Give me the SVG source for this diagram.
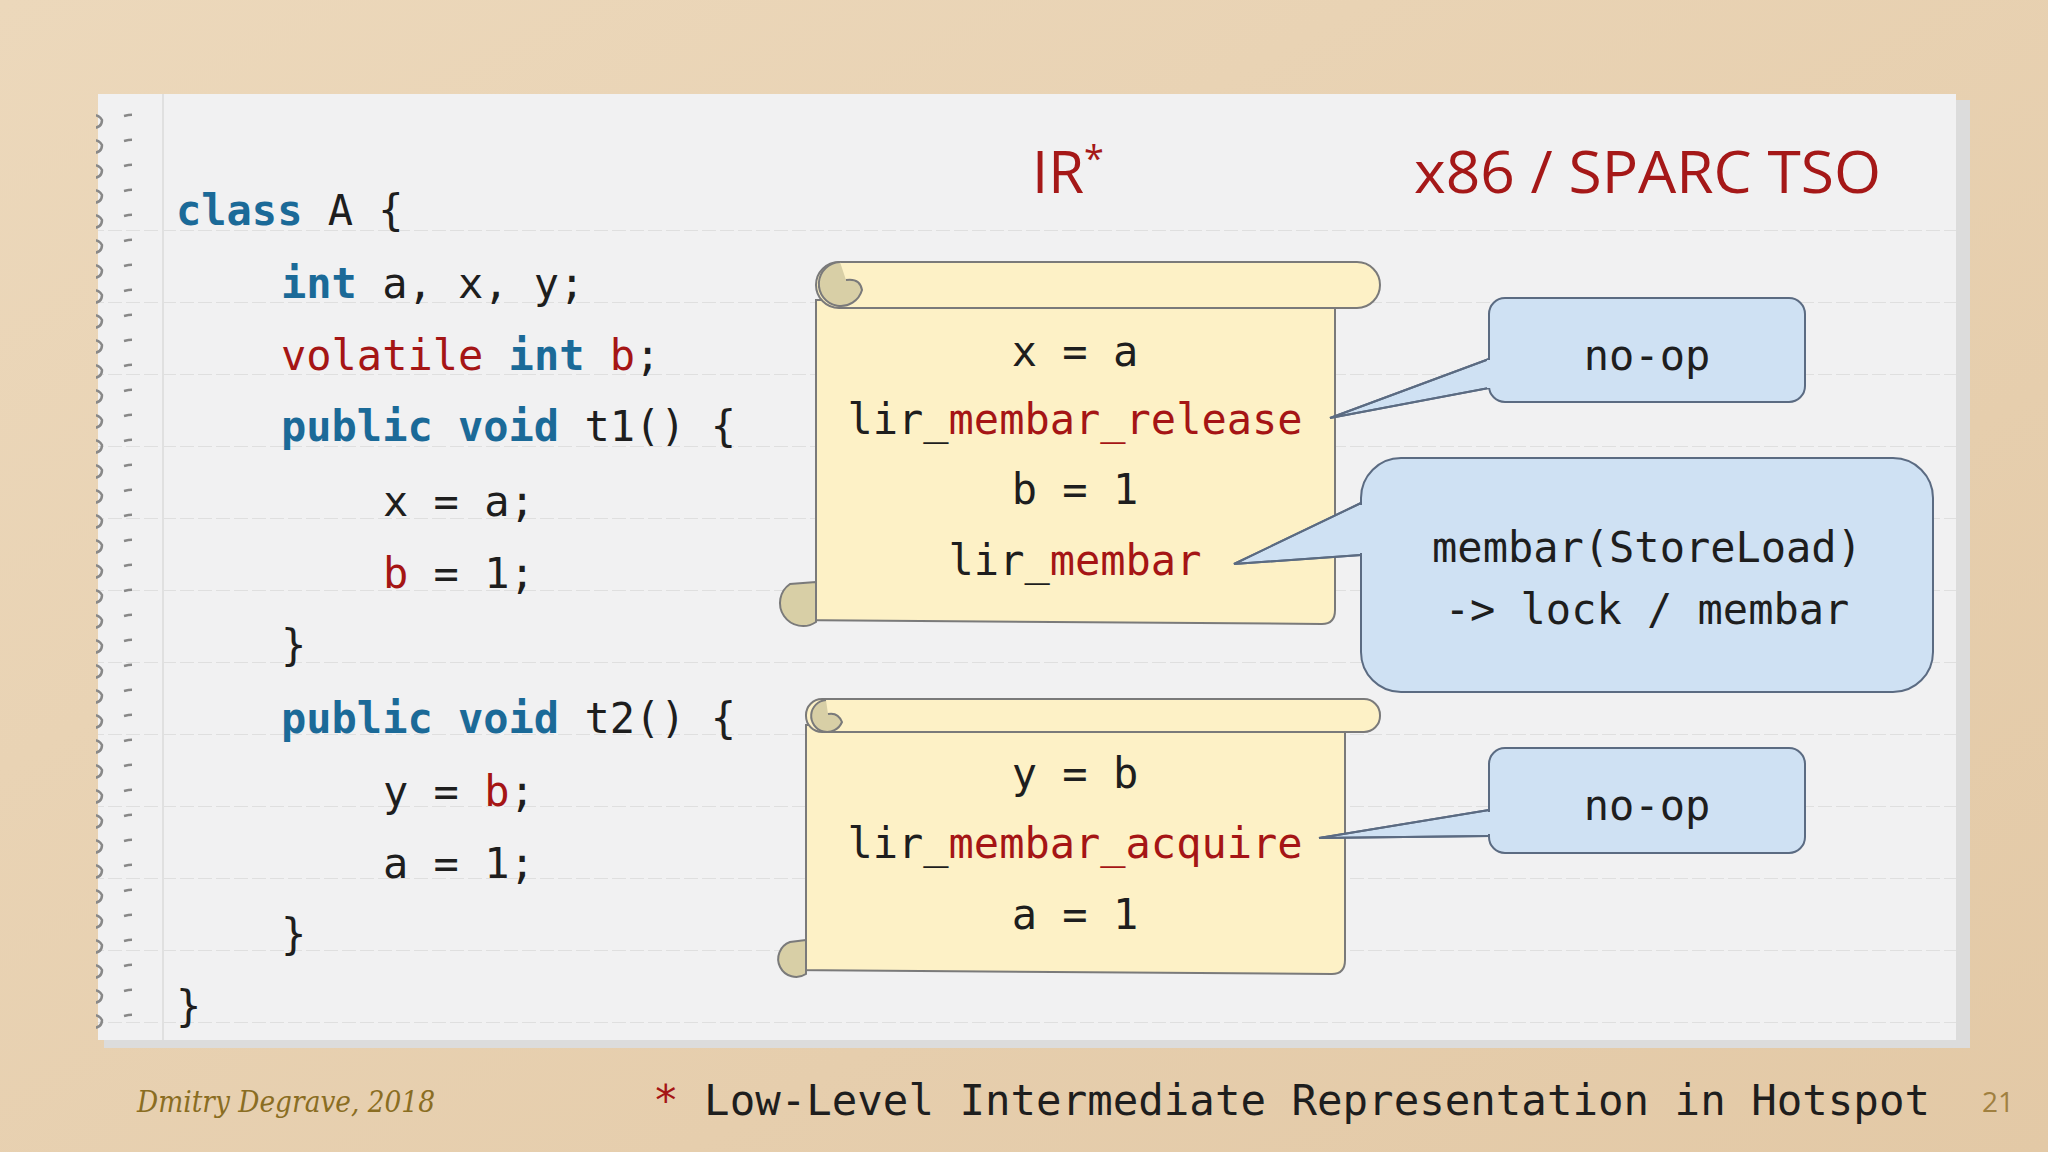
<svg xmlns="http://www.w3.org/2000/svg" width="2048" height="1152" viewBox="0 0 2048 1152">
<style>
.code{font-family:"DejaVu Sans Mono","Liberation Mono",monospace;font-size:42px;fill:#1e1e1e}
.kw{fill:#1b6a98;font-weight:bold}
.rd{fill:#a51515}
.head{font-family:"Open Sans","DejaVu Sans",sans-serif;font-size:58px;fill:#a51818}
.scroll{fill:#fdf1c6;stroke:#7a7a7a;stroke-width:2}
.curl{fill:#d8cfa6;stroke:#7a7a7a;stroke-width:2}
.call{fill:#cfe1f3;stroke:#5b6b82;stroke-width:2}
.mid{text-anchor:middle}
</style>
<defs>
<linearGradient id="bg" x1="0" y1="0" x2="1" y2="1"><stop offset="0" stop-color="#ecd8bb"/><stop offset="1" stop-color="#e3c9a6"/></linearGradient>
<pattern id="lines" x="0" y="14" width="2048" height="72" patternUnits="userSpaceOnUse"><line x1="0" y1="0" x2="2048" y2="0" stroke="#d9d9d9" stroke-width="1.5" stroke-dasharray="14 4"/></pattern>
<pattern id="holes" x="0" y="110" width="40" height="25" patternUnits="userSpaceOnUse"><path d="M4 6 Q18 2 22 10 Q22 18 12 18" fill="none" stroke="#888" stroke-width="2.5"/></pattern>
</defs>
<rect width="2048" height="1152" fill="url(#bg)"/>
<g id="paper">
<rect x="104" y="100" width="1866" height="948" fill="#dcdcdc"/>
<rect x="98" y="94" width="1858" height="946" fill="#f1f1f2"/>
<rect x="98" y="160" width="1858" height="880" fill="url(#lines)"/>
<line x1="163" y1="94" x2="163" y2="1040" stroke="#e0e0e0" stroke-width="2"/>
<rect x="96" y="110" width="36" height="920" fill="url(#holes)"/>
</g>
<g id="code" class="code">
<text x="176" y="225"><tspan class="kw">class</tspan> A {</text>
<text x="281" y="298"><tspan class="kw">int</tspan> a, x, y;</text>
<text x="281" y="370"><tspan class="rd">volatile</tspan> <tspan class="kw">int</tspan> <tspan class="rd">b</tspan>;</text>
<text x="281" y="441"><tspan class="kw">public void</tspan> t1() {</text>
<text x="383" y="516">x = a;</text>
<text x="383" y="588"><tspan class="rd">b</tspan> = 1;</text>
<text x="281" y="660">}</text>
<text x="281" y="733"><tspan class="kw">public void</tspan> t2() {</text>
<text x="383" y="806">y = <tspan class="rd">b</tspan>;</text>
<text x="383" y="878">a = 1;</text>
<text x="281" y="949">}</text>
<text x="176" y="1021">}</text>
</g>
<g id="headings">
<text class="head" x="1032" y="193">IR<tspan font-size="36" dy="-22">*</tspan></text>
<text class="head" x="1414" y="193" textLength="467" lengthAdjust="spacingAndGlyphs">x86 / SPARC TSO</text>
</g>
<g id="scroll1">
<path class="scroll" d="M816 300 L816 600 L790 620 L1322 624 Q1335 624 1335 610 L1335 300 Z"/>
<rect class="scroll" x="816" y="262" width="564" height="46" rx="23"/>
<path class="curl" d="M840 262 A22 22 0 1 0 862 290 Q860 278 846 280"/>
<path class="curl" d="M816 582 L790 584 A22 22 0 1 0 816 622 Z"/>
<g class="code mid"><text x="1075" y="366">x = a</text>
<text x="1075" y="434">lir_<tspan class="rd">membar_release</tspan></text>
<text x="1075" y="504">b = 1</text>
<text x="1075" y="575">lir_<tspan class="rd">membar</tspan></text></g>
</g>
<g id="scroll2">
<path class="scroll" d="M806 725 L806 950 L790 970 L1332 974 Q1345 974 1345 960 L1345 725 Z"/>
<rect class="scroll" x="806" y="699" width="574" height="33" rx="16"/>
<path class="curl" d="M826 700 A16 16 0 1 0 842 722 Q838 712 828 714"/>
<path class="curl" d="M806 940 L790 942 A18 18 0 1 0 806 974 Z"/>
<g class="code mid"><text x="1075" y="788">y = b</text>
<text x="1075" y="858">lir_<tspan class="rd">membar_acquire</tspan></text>
<text x="1075" y="929">a = 1</text></g>
</g>
<g id="connectors">
<path class="call" d="M1489 359 L1330 418 L1489 388 Z" stroke="none"/>
<path d="M1489 359 L1330 418 L1489 388" fill="none" stroke="#5b6b82" stroke-width="2"/>
<path class="call" d="M1361 503 L1234 564 L1361 555 Z" stroke="none"/>
<path d="M1361 503 L1234 564 L1361 555" fill="none" stroke="#5b6b82" stroke-width="2"/>
<path class="call" d="M1489 810 L1319 838 L1489 836 Z" stroke="none"/>
<path d="M1489 810 L1319 838 L1489 836" fill="none" stroke="#5b6b82" stroke-width="2"/>
</g>
<g id="callout1"><rect class="call" x="1489" y="298" width="316" height="104" rx="16"/><path d="M1489 360 V388" stroke="#cfe1f3" stroke-width="4"/><text class="code mid" x="1647" y="370">no-op</text></g>
<g id="callout2"><rect class="call" x="1361" y="458" width="572" height="234" rx="40"/><path d="M1361 505 V553" stroke="#cfe1f3" stroke-width="4"/><text class="code mid" x="1647" y="562">membar(StoreLoad)</text><text class="code mid" x="1647" y="624">-&gt; lock / membar</text></g>
<g id="callout3"><rect class="call" x="1489" y="748" width="316" height="105" rx="16"/><path d="M1489 812 V834" stroke="#cfe1f3" stroke-width="4"/><text class="code mid" x="1647" y="820">no-op</text></g>
<g id="footer">
<text x="137" y="1112" font-family="DejaVu Serif,serif" font-style="italic" font-size="30" fill="#8a6d22" textLength="298" lengthAdjust="spacingAndGlyphs">Dmitry Degrave, 2018</text>
<text x="653" y="1115" class="code" font-size="44" textLength="1277" lengthAdjust="spacingAndGlyphs"><tspan class="rd">*</tspan> Low-Level Intermediate Representation in Hotspot</text>
<text x="1998" y="1112" font-family="Open Sans,sans-serif" font-size="28" fill="#a08040" text-anchor="middle">21</text>
</g>
</svg>
